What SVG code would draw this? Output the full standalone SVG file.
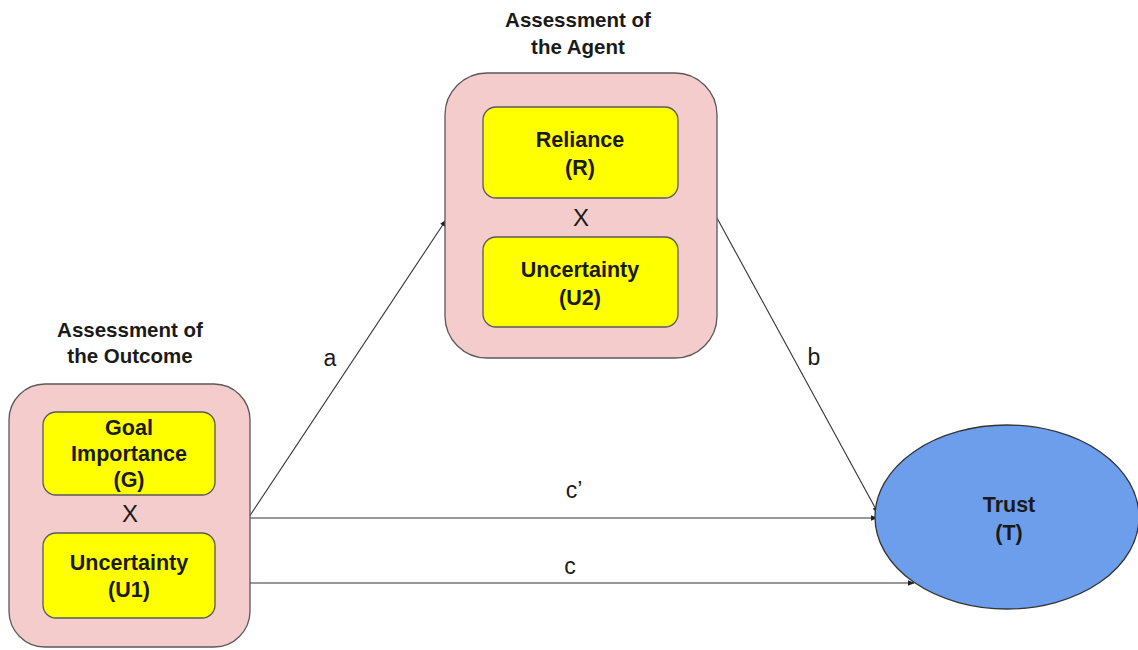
<svg xmlns="http://www.w3.org/2000/svg" width="1138" height="650" viewBox="0 0 1138 650">
<style>
.outer{fill:#f4cccc;stroke:#595959;stroke-width:1.3}
.inner{fill:#ffff00;stroke:#595959;stroke-width:1.3}
.t{font-family:"Liberation Sans",Arial,sans-serif;font-weight:bold;font-size:21.5px;fill:#1a1a1a;text-anchor:middle}
.title{font-family:"Liberation Sans",Arial,sans-serif;font-weight:bold;font-size:20.5px;fill:#1a1a1a;text-anchor:middle}
.x{font-family:"Liberation Sans",Arial,sans-serif;font-size:24px;fill:#1a1a1a;text-anchor:middle}
.lbl{font-family:"Liberation Sans",Arial,sans-serif;font-size:23px;fill:#1a1a1a;text-anchor:middle}
.c{stroke:#333;stroke-width:1.1;fill:none;marker-end:url(#ah)}
</style>
<defs>
<marker id="ah" viewBox="0 0 10 10" refX="9" refY="5" markerWidth="7" markerHeight="7" markerUnits="userSpaceOnUse" orient="auto">
<path d="M0,1 L10,5 L0,9 z" fill="#222"/>
</marker>
</defs>
<rect width="1138" height="650" fill="#fff"/>
<g id="connectors">
<line class="c" x1="249" y1="517" x2="446" y2="220"/>
<line class="c" x1="717" y1="218" x2="878" y2="513"/>
<line class="c" x1="249" y1="518" x2="877" y2="518"/>
<line class="c" x1="249" y1="583" x2="914" y2="583"/>
<text class="lbl" x="330" y="366">a</text>
<text class="lbl" x="814" y="365">b</text>
<text class="lbl" x="574" y="498">c’</text>
<text class="lbl" x="570" y="574">c</text>
</g>
<g id="outcome">
<text class="title" x="130" y="337">Assessment of</text>
<text class="title" x="130" y="363">the Outcome</text>
<rect class="outer" x="9" y="384" width="241" height="263" rx="36"/>
</g>
<g id="goal">
<rect class="inner" x="43" y="412" width="172" height="83" rx="13"/>
<text class="t" x="129" y="435">Goal</text>
<text class="t" x="129" y="461">Importance</text>
<text class="t" x="129" y="487">(G)</text>
</g>
<text class="x" x="130" y="522">X</text>
<g id="u1">
<rect class="inner" x="43" y="533" width="172" height="85" rx="13"/>
<text class="t" x="129" y="570">Uncertainty</text>
<text class="t" x="129" y="597">(U1)</text>
</g>
<g id="agent">
<text class="title" x="578" y="27">Assessment of</text>
<text class="title" x="578" y="54">the Agent</text>
<rect class="outer" x="445" y="73" width="272" height="285" rx="42"/>
</g>
<g id="reliance">
<rect class="inner" x="483" y="107" width="195" height="91" rx="13"/>
<text class="t" x="580" y="147">Reliance</text>
<text class="t" x="580" y="175">(R)</text>
</g>
<text class="x" x="581" y="226">X</text>
<g id="u2">
<rect class="inner" x="483" y="237" width="195" height="90" rx="13"/>
<text class="t" x="580" y="277">Uncertainty</text>
<text class="t" x="580" y="305">(U2)</text>
</g>
<g id="trust">
<ellipse cx="1007" cy="517" rx="132" ry="92" fill="#6d9eeb" stroke="#333" stroke-width="1.3"/>
<text class="t" x="1009" y="512">Trust</text>
<text class="t" x="1009" y="540">(T)</text>
</g>
</svg>
